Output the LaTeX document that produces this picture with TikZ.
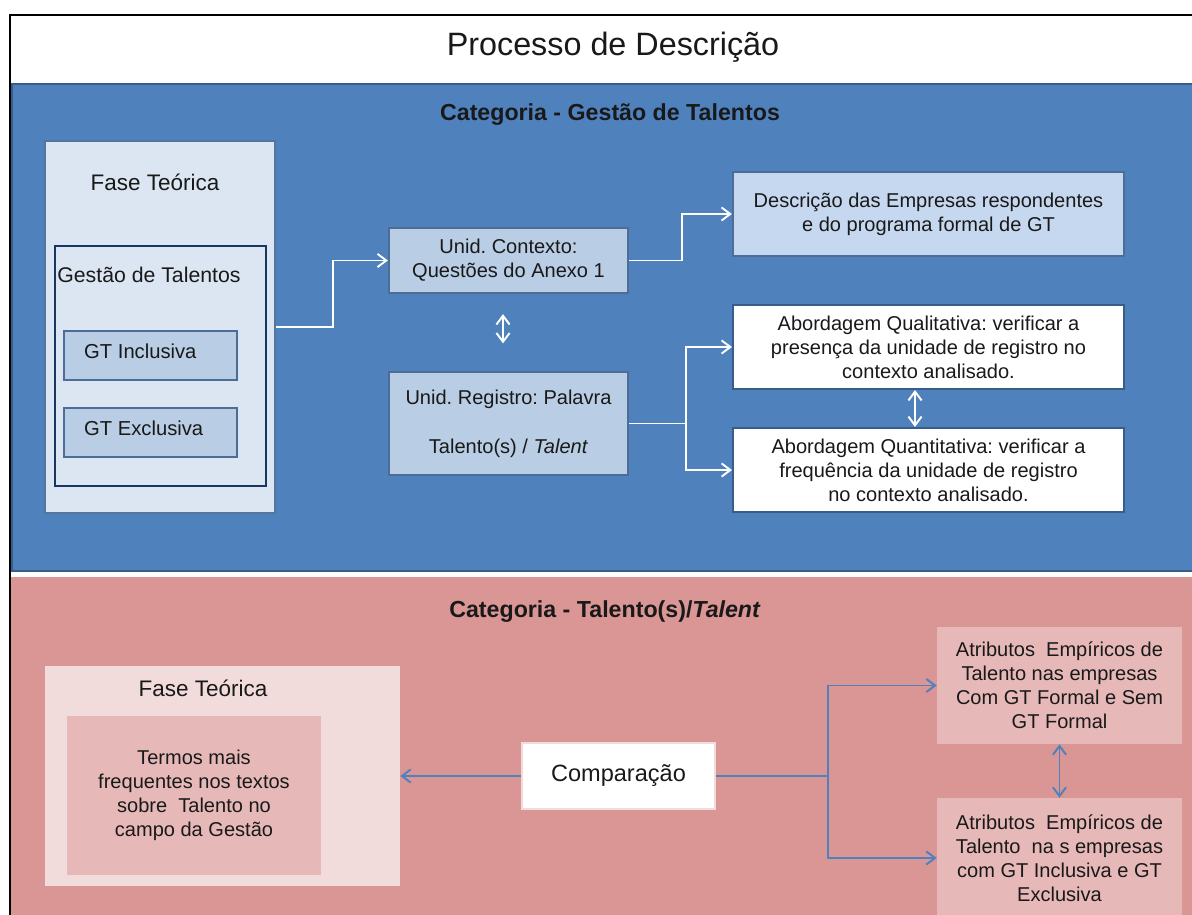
\documentclass[tikz,border=0pt]{standalone}
\usepackage{fontspec}
\setmainfont{Liberation Sans}
\usepackage{xcolor}
\usetikzlibrary{arrows.meta,positioning,calc}
\frenchspacing
\definecolor{descr@blue}{RGB}{79,129,189}
\definecolor{descr@blueline}{RGB}{56,93,138}
\definecolor{descr@pale}{RGB}{220,230,242}
\definecolor{descr@mid}{RGB}{185,205,229}
\definecolor{descr@light}{RGB}{198,216,239}
\definecolor{descr@navy}{RGB}{23,55,94}
\definecolor{descr@pink}{RGB}{217,150,148}
\definecolor{descr@pinkpale}{RGB}{242,220,219}
\definecolor{descr@pinkmid}{RGB}{230,185,184}
\tikzset{
  descr/.style={
    x=0.02cm, y=-0.02cm,
    every node/.style={font=\fontsize{11.4pt}{13.6pt}\selectfont, text=black!90}
  },
  panel/.style={                   % coloured band behind a category
    anchor=north west, inner sep=0pt,
    minimum width=23.9cm
  },
  heading/.style={font=\bfseries\fontsize{13.2pt}{16pt}\selectfont},
  phase/.style={font=\fontsize{12.8pt}{15pt}\selectfont},
  palebox/.style={draw=descr@blueline!85!white, line width=1pt, fill=descr@pale},
  bluebox/.style={                 % analysis unit node
    draw=descr@blueline!90!white, line width=1.3pt,
    fill=descr@mid, align=center, inner sep=2pt
  },
  whitebox/.style={
    draw=descr@blueline, line width=1.2pt,
    fill=white, align=center, inner sep=2pt
  },
  pinkbox/.style={fill=descr@pinkmid, align=center, inner sep=2pt},
  wflow/.style={-{Straight Barb[length=5pt,width=7.5pt]}, draw=white, line width=1.1pt},
  wboth/.style={{Straight Barb[length=5pt,width=7.5pt]}-{Straight Barb[length=5pt,width=7.5pt]},
    draw=white, line width=1.1pt},
  bflow/.style={-{Straight Barb[length=5pt,width=7.5pt]}, draw=descr@blue, line width=1.1pt},
  bboth/.style={{Straight Barb[length=5pt,width=7.5pt]}-{Straight Barb[length=5pt,width=7.5pt]},
    draw=descr@blue, line width=1.1pt}
}
\begin{document}
\begin{tikzpicture}[descr]
\useasboundingbox (0,0) rectangle (1192,915);
\clip (0,0) rectangle (1192,915);
\fill[white] (0,0) rectangle (1192,915);
\draw[black, line width=1.1pt] (10,15) rectangle (1215,940);

% Title strip
\node[font=\fontsize{18.4pt}{22pt}\selectfont] (title) at (613,47) {Processo de Descrição};

% Bands
\node[panel, draw=descr@blueline, line width=1.4pt, fill=descr@blue, minimum height=9.74cm] (gtpanel) at (11,83) {};
\node[panel, fill=descr@pink, minimum height=6.9cm] (tapanel) at (11,577) {};
\node[heading] (gthead) at (610,115) {Categoria - Gestão de Talentos};
\node[heading] (tahead) at (605,612) {Categoria - Talento(s)/\textit{Talent}};

% Theoretical phase (blue band)
\node[palebox, minimum width=4.6cm, minimum height=7.44cm] (faseA) at (160,327) {};
\node[phase] (faseAlbl) at (155,182) {Fase Teórica};
\node[draw=descr@navy, line width=1.4pt, fill=descr@pale, minimum width=4.22cm, minimum height=4.8cm] (gtA) at (160.5,366) {};
\node[anchor=west, inner sep=0pt, font=\fontsize{12.1pt}{15pt}\selectfont] (gtAlbl) at (57,275) {Gestão de Talentos};
\foreach \name/\yy/\txt in {gtinc/355.5/GT Inclusiva, gtexc/432.5/GT Exclusiva} {
  \node[bluebox, minimum width=3.46cm, minimum height=0.98cm] (\name) at (150.5,\yy) {};
  \node[anchor=west, inner sep=0pt, font=\fontsize{11.5pt}{14pt}\selectfont]
    (\name lbl) at ([xshift=0.42cm, yshift=0.08cm]\name.west) {\txt};
}

% Units of analysis
\node[bluebox, minimum width=4.78cm, minimum height=1.3cm] (ctx) at (508.5,260.5)
  {Unid. Contexto:\\Questões do Anexo 1};
\node[bluebox, minimum width=4.78cm, minimum height=2.06cm] (reg) at (508.5,423.5)
  {Unid. Registro: Palavra\\[0.5cm]Talento(s) / \textit{Talent}};

% Outcomes
\node[bluebox, fill=descr@light, minimum width=7.82cm, minimum height=1.68cm] (desc) at (928.5,214)
  {Descrição das Empresas respondentes\\e do programa formal de GT};
\node[whitebox, minimum width=7.82cm, minimum height=1.68cm] (qual) at (928.5,347)
  {Abordagem Qualitativa: verificar a\\presença da unidade de registro no\\contexto analisado.};
\node[whitebox, minimum width=7.82cm, minimum height=1.68cm] (quant) at (928.5,470)
  {Abordagem Quantitativa: verificar a\\frequência da unidade de registro\\no contexto analisado.};

\draw[wflow] (faseA.east) -- ++(57,0) |- (ctx.west);
\draw[wflow] (ctx.east) -- ++(53,0) |- (desc.west);
\draw[wflow] (reg.east) -- ++(57,0) |- (qual.west);
\draw[wflow] (reg.east) -- ++(57,0) |- (quant.west);
\draw[wboth, shorten <=0.4cm, shorten >=0.55cm] ([xshift=-0.11cm]ctx.south) -- ([xshift=-0.11cm]reg.north);
\draw[wboth] ([xshift=-0.27cm]qual.south) -- ([xshift=-0.27cm]quant.north);

% Theoretical phase (pink band)
\node[fill=descr@pinkpale, minimum width=7.1cm, minimum height=4.4cm] (faseB) at (222.5,776) {};
\node[phase] (faseBlbl) at (203,688) {Fase Teórica};
\node[pinkbox, minimum width=5.08cm, minimum height=3.18cm] (termos) at (194,795.5)
  {Termos mais\\frequentes nos textos\\sobre\ \ Talento no\\campo da Gestão};

% Comparison
\node[fill=white, draw=descr@pinkpale, line width=0.8pt, minimum width=3.86cm, minimum height=1.32cm,
  font=\fontsize{13.4pt}{16pt}\selectfont] (comp) at (618.5,776) {Comparação};
\node[pinkbox, minimum width=4.9cm, minimum height=2.34cm] (atrib1) at (1059.5,685.5)
  {Atributos\ \ Empíricos de\\Talento nas empresas\\Com GT Formal e Sem\\GT Formal};
\node[pinkbox, minimum width=4.9cm, minimum height=2.4cm] (atrib2) at (1059.5,858)
  {Atributos\ \ Empíricos de\\Talento\ \ na s empresas\\com GT Inclusiva e GT\\Exclusiva};

\draw[bflow] (comp.west) -- (faseB.east);
\draw[bflow] (comp.east) -- ++(112,0) |- (atrib1.west);
\draw[bflow] (comp.east) -- ++(112,0) |- (atrib2.west);
\draw[bboth] (atrib1.south) -- (atrib2.north);
\end{tikzpicture}
\end{document}
